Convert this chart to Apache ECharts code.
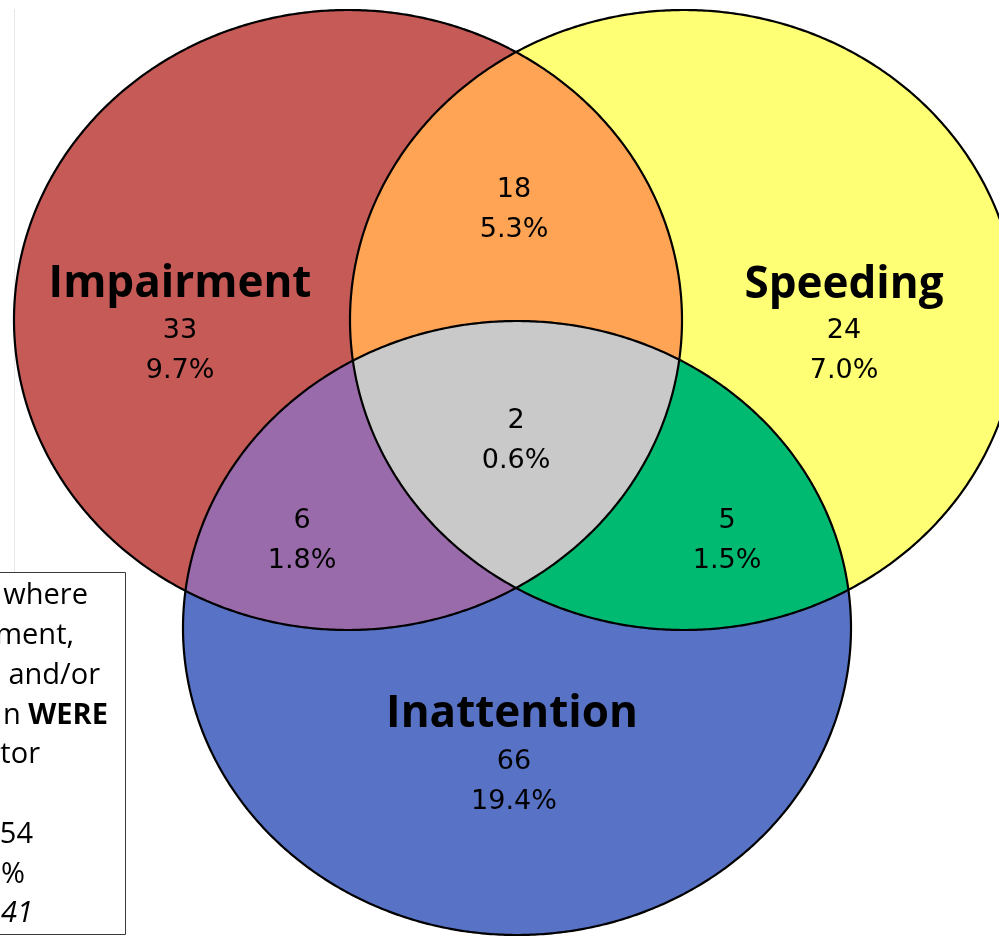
<!DOCTYPE html>
<html>
<head>
<meta charset="utf-8">
<script src="https://cdn.jsdelivr.net/npm/echarts@6/dist/echarts.min.js"></script>
<style>
  html, body { margin: 0; padding: 0; background: #fff; }
  #chart { width: 999px; height: 936px; }
</style>
</head>
<body>
<div id="chart"></div>
<script>
// ---------- DATA ----------
const setNames = ['Impairment', 'Speeding', 'Inattention'];
// region membership (indices into setNames)
const regionMembers = [[0], [1], [2], [0, 1], [0, 2], [1, 2], [0, 1, 2]];
const regionCounts = [33, 24, 66, 18, 6, 5, 2];
const regionPercents = [9.7, 7.0, 19.4, 5.3, 1.8, 1.5, 0.6];
// note box text (visible part, rich-text markup)
const noteLines = ['where', 'ment,', 'and/or', 'n {b|WERE}', 'tor', '', '54', '%', '{i|41}'];

// ---------- LAYOUT / STYLE ----------
const ellipses = [
  { cx: 348, cy: 320, rx: 334, ry: 310 },
  { cx: 684, cy: 320, rx: 334, ry: 310 },
  { cx: 517, cy: 628, rx: 334, ry: 307 }
];
const regionColors = ['#C65A57', '#FFFF75', '#5872C5', '#FFA455', '#9A6BAA', '#00BA72', '#C9C9C9'];
const countPos = [[180, 330], [844, 330], [514, 761], [514, 189], [302, 520], [727, 520], [516, 420]];
const titlePos = [[180, 284], [844, 285], [512, 714]];
const noteRight = [88, 74, 100, 108, 40, 0, 33, 25, 33];
const noteTop = 605, noteStep = 39.75;

function ellipsePoints(e, n) {
  const pts = [];
  for (let i = 0; i < n; i++) {
    const a = (i / n) * Math.PI * 2;
    pts.push([e.cx + e.rx * Math.cos(a), e.cy + e.ry * Math.sin(a)]);
  }
  return pts;
}
// boundary of the intersection of several ellipses (convex) via ray casting
function intersectionPoints(list, n) {
  let cx = 0, cy = 0;
  list.forEach(e => { cx += e.cx; cy += e.cy; });
  cx /= list.length; cy /= list.length;
  const pts = [];
  for (let i = 0; i < n; i++) {
    const a = (i / n) * Math.PI * 2;
    const dx = Math.cos(a), dy = Math.sin(a);
    let tmin = Infinity;
    list.forEach(e => {
      const px = cx - e.cx, py = cy - e.cy;
      const A = dx * dx / (e.rx * e.rx) + dy * dy / (e.ry * e.ry);
      const B = 2 * (px * dx / (e.rx * e.rx) + py * dy / (e.ry * e.ry));
      const C = px * px / (e.rx * e.rx) + py * py / (e.ry * e.ry) - 1;
      const t = (-B + Math.sqrt(B * B - 4 * A * C)) / (2 * A);
      if (t < tmin) tmin = t;
    });
    pts.push([cx + tmin * dx, cy + tmin * dy]);
  }
  return pts;
}

const chart = echarts.init(document.getElementById('chart'), null, { renderer: 'canvas' });

const option = {
  animation: false,
  backgroundColor: '#fff',
  grid: { left: 0, right: 0, top: 0, bottom: 0 },
  xAxis: { type: 'value', min: 0, max: 999, show: false },
  yAxis: { type: 'value', min: 0, max: 936, inverse: true, show: false },
  series: [
    {
      type: 'custom',
      name: 'regions',
      coordinateSystem: 'cartesian2d',
      z: 1,
      data: regionMembers.map((m, i) => [i, regionCounts[i]]),
      renderItem: function (params, api) {
        const idx = api.value(0);
        const members = regionMembers[idx];
        const raw = members.length === 1
          ? ellipsePoints(ellipses[members[0]], 720)
          : intersectionPoints(members.map(k => ellipses[k]), 1440);
        return {
          type: 'polygon',
          shape: { points: raw.map(p => api.coord(p)) },
          style: { fill: regionColors[idx], stroke: null }
        };
      }
    },
    {
      type: 'custom',
      name: 'outlines',
      coordinateSystem: 'cartesian2d',
      z: 2,
      data: setNames.map((s, i) => [i]),
      renderItem: function (params, api) {
        const e = ellipses[api.value(0)];
        return {
          type: 'polygon',
          shape: { points: ellipsePoints(e, 720).map(p => api.coord(p)) },
          style: { fill: null, stroke: '#000', lineWidth: 2.2 }
        };
      }
    },
    {
      type: 'custom',
      name: 'titles',
      coordinateSystem: 'cartesian2d',
      z: 3,
      data: setNames.map((s, i) => [i]),
      renderItem: function (params, api) {
        const i = api.value(0);
        const p = api.coord(titlePos[i]);
        return {
          type: 'text',
          x: p[0], y: p[1],
          style: {
            text: setNames[i],
            font: 'bold 44px "Open Sans"',
            fill: '#000',
            align: 'center',
            verticalAlign: 'middle'
          }
        };
      }
    },
    {
      type: 'custom',
      name: 'counts',
      coordinateSystem: 'cartesian2d',
      z: 3,
      data: regionMembers.map((m, i) => [i, regionCounts[i], regionPercents[i]]),
      renderItem: function (params, api) {
        const i = api.value(0);
        const p1 = api.coord(countPos[i]);
        const p2 = api.coord([countPos[i][0], countPos[i][1] + 40]);
        const st = {
          font: '27px "DejaVu Sans"',
          fill: '#000',
          align: 'center',
          verticalAlign: 'middle'
        };
        return {
          type: 'group',
          children: [
            { type: 'text', x: p1[0], y: p1[1] + 1, style: Object.assign({ text: String(regionCounts[i]) }, st) },
            { type: 'text', x: p2[0], y: p2[1] + 1, style: Object.assign({ text: regionPercents[i].toFixed(1) + '%' }, st) }
          ]
        };
      }
    }
  ],
  graphic: {
    elements: [
      { type: 'line', shape: { x1: 14.5, y1: 9, x2: 14.5, y2: 572 }, style: { stroke: '#e8e8e8', lineWidth: 1 }, z: 0 },
      {
        type: 'rect',
        shape: { x: -10, y: 572.5, width: 135.5, height: 362 },
        style: { fill: '#fff', stroke: '#3a3a3a', lineWidth: 1 },
        z: 10
      }
    ].concat(noteLines.map((t, i) => ({
      type: 'text',
      z: 11,
      x: noteRight[i],
      y: noteTop + i * noteStep - 9,
      style: {
        text: t,
        font: '29px "Open Sans"',
        fill: '#000',
        align: 'right',
        verticalAlign: 'middle',
        rich: {
          b: { font: 'bold 29px "Open Sans"', fill: '#000' },
          i: { font: 'italic 29px "Open Sans"', fill: '#000' }
        }
      }
    })))
  }
};
chart.setOption(option);
</script>
</body>
</html>
